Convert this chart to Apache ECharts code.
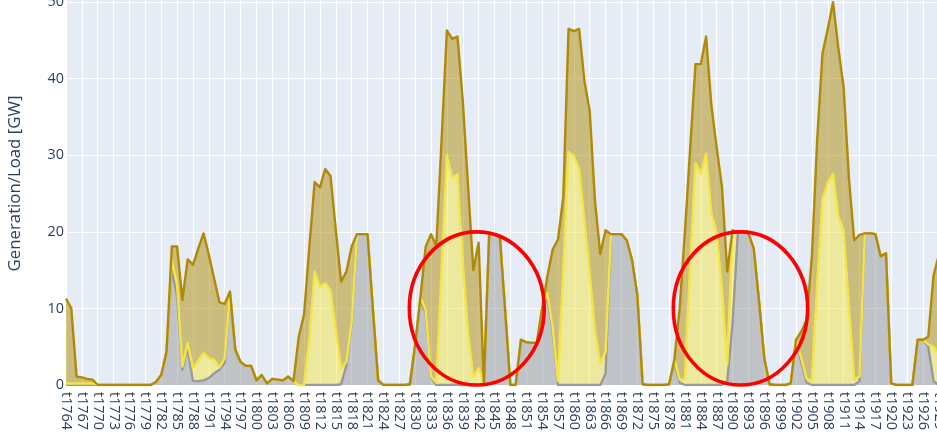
<!DOCTYPE html>
<html>
<head>
<meta charset="utf-8">
<script src="https://cdn.jsdelivr.net/npm/echarts@6/dist/echarts.min.js"></script>
<style>
  html, body { margin: 0; padding: 0; background: #ffffff; }
  #chart { width: 937px; height: 443px; }
</style>
</head>
<body>
<div id="chart"></div>
<script>
// Hourly time steps on the category axis
const hours = [
  't1764','t1765','t1766','t1767','t1768','t1769','t1770','t1771','t1772','t1773',
  't1774','t1775','t1776','t1777','t1778','t1779','t1780','t1781','t1782','t1783',
  't1784','t1785','t1786','t1787','t1788','t1789','t1790','t1791','t1792','t1793',
  't1794','t1795','t1796','t1797','t1798','t1799','t1800','t1801','t1802','t1803',
  't1804','t1805','t1806','t1807','t1808','t1809','t1810','t1811','t1812','t1813',
  't1814','t1815','t1816','t1817','t1818','t1819','t1820','t1821','t1822','t1823',
  't1824','t1825','t1826','t1827','t1828','t1829','t1830','t1831','t1832','t1833',
  't1834','t1835','t1836','t1837','t1838','t1839','t1840','t1841','t1842','t1843',
  't1844','t1845','t1846','t1847','t1848','t1849','t1850','t1851','t1852','t1853',
  't1854','t1855','t1856','t1857','t1858','t1859','t1860','t1861','t1862','t1863',
  't1864','t1865','t1866','t1867','t1868','t1869','t1870','t1871','t1872','t1873',
  't1874','t1875','t1876','t1877','t1878','t1879','t1880','t1881','t1882','t1883',
  't1884','t1885','t1886','t1887','t1888','t1889','t1890','t1891','t1892','t1893',
  't1894','t1895','t1896','t1897','t1898','t1899','t1900','t1901','t1902','t1903',
  't1904','t1905','t1906','t1907','t1908','t1909','t1910','t1911','t1912','t1913',
  't1914','t1915','t1916','t1917','t1918','t1919','t1920','t1921','t1922','t1923',
  't1924','t1925','t1926','t1927','t1928','t1929','t1930'
];

// Stacked layers in GW (bottom to top)
const grayLayer = [
  0,0,0,0,0,0,0,0,0,0,
  0,0,0,0,0,0,0,0.4,1.3,4.3,
  15.0,11.5,2.0,4.8,0.5,0.5,0.6,0.9,1.5,2.0,
  2.9,11.8,4.6,3.0,2.5,2.5,0.6,1.3,0.2,0.8,
  0.7,0.6,1.1,0.5,0,0,0,0,0,0,
  0,0,0.1,2.5,8.0,19.6,19.7,19.7,10.0,0.6,
  0,0,0,0,0,0.1,5.0,11.0,9.4,1.0,
  0,0,0,0,0,0,0,0,0,0.2,
  19.7,19.7,19.5,9.8,0,0,5.9,5.6,5.5,5.5,
  9.8,11.5,7.0,0,0,0,0,0,0,0,
  0,0,1.5,19.7,19.7,19.7,18.9,16.3,11.7,0.1,
  0,0,0,0,0.1,2.8,0.3,0,0,0,
  0,0,0,0,0,0.5,8.0,19.8,20.0,19.8,
  17.8,11.0,3.5,0.1,0,0,0,0.2,5.5,3.0,
  0.3,0,0,0,0,0,0,0,0,0,
  0.5,19.8,19.8,19.7,16.8,17.2,0.2,0,0,0,
  0,5.9,5.9,5.0,0.5,0,0
];

const yellowLayer = [
  0.2,0.2,0.2,0.2,0.2,0.2,0,0,0,0,
  0,0,0,0,0,0,0,0,0,0,
  1.3,1.7,0.4,0.7,1.7,2.7,3.6,2.6,1.8,0.3,
  0.6,0.3,0,0,0,0,0,0,0,0,
  0,0,0,0,0,0,6.0,14.8,12.8,13.3,
  12.4,7.2,2.1,0.5,0.3,0,0,0,0,0,
  0,0,0,0,0,0,0.3,0.5,0.4,0.1,
  0.3,15.0,30.0,27.1,27.5,16.0,6.8,1.1,2.2,0,
  0,0,0,0,0,0,0,0,0,0,
  0.2,0.5,0.5,0.5,15.0,30.4,29.9,28.2,21.5,14.5,
  7.0,2.8,2.8,0,0,0,0,0,0,0,
  0,0,0,0,0,0.5,0.4,0.7,16.0,29.0,
  27.6,30.2,22.4,19.8,12.4,2.2,12.0,0.2,0,0,
  0,0,0,0,0,0,0,0,0.4,0.5,
  0.5,0.5,13.0,24.2,26.4,27.6,22.0,20.2,10.2,0.7,
  0.6,0,0,0,0,0,0,0,0,0,
  0,0,0,0.3,4.5,4.0,4.0
];

const goldLayer = [
  11.1,9.8,0.9,0.8,0.6,0.5,0,0,0,0,
  0,0,0,0,0,0,0,0,0,0,
  1.8,4.9,8.7,10.9,13.5,14.6,15.6,13.5,10.6,8.5,
  7.1,0.1,0,0,0,0,0,0,0,0,
  0,0,0,0,6.3,9.2,12.0,11.7,13.0,14.9,
  14.9,13.1,11.3,11.8,9.8,0.1,0,0,0,0,
  0,0,0,0,0,0,0,0,8.3,18.6,
  17.9,17.0,16.3,18.1,18.0,21.2,19.2,13.9,16.4,0,
  0,0,0,0,0,0,0,0,0,0,
  0,2.2,10.2,18.5,9.5,16.1,16.3,18.3,18.2,21.3,
  17.0,14.3,15.9,0,0,0,0,0,0,0,
  0,0,0,0,0,0,9.3,19.3,15.0,12.9,
  14.3,15.3,14.1,11.2,13.5,12.1,0.2,0,0,0,
  0,0,0,0,0,0,0,0,0,3.5,
  7.7,16.3,19.0,19.1,20.1,22.4,22.0,18.7,16.8,18.2,
  18.5,0,0,0,0,0,0,0,0,0,
  0,0,0,1.0,9.3,13.0,14.5
];

// Value-axis ticks
const yTicks = [0, 10, 20, 30, 40, 50];

// Highlight rings, given in axis units (category index, GW)
const highlightRings = [
  { x0: 64.9, x1: 90.4, y0: 0, y1: 20 },
  { x0: 114.8, x1: 140.2, y0: 0, y1: 20 }
];

const FONT = '"Open Sans", verdana, arial, sans-serif';
const TEXT = '#2a3f5f';
const STEP = 5.29;            // px between neighbouring hours
const PX_PER_GW = 7.658;
const PLOT_TOP = -18;         // plot area continues above the visible frame
const PLOT_BOTTOM = 385;
const yMax = (PLOT_BOTTOM - PLOT_TOP) / PX_PER_GW;

const layers = [
  { name: 'gray',   data: grayLayer,   line: '#999999', fill: 'rgba(153,153,153,0.5)' },
  { name: 'yellow', data: yellowLayer, line: '#f3e545', fill: 'rgba(243,229,69,0.5)' },
  { name: 'gold',   data: goldLayer,   line: '#b08a06', fill: 'rgba(176,138,6,0.5)' }
];

const chart = echarts.init(document.getElementById('chart'), null, { renderer: 'canvas' });

const fillSeries = layers.map(l => ({
  type: 'line',
  name: l.name + ' fill',
  stack: 'fills',
  data: l.data,
  symbol: 'none',
  silent: true,
  lineStyle: { width: 0, opacity: 0 },
  areaStyle: { color: l.fill, opacity: 1 },
  z: 2
}));

const edgeSeries = layers.map(l => ({
  type: 'line',
  name: l.name,
  stack: 'edges',
  data: l.data,
  symbol: 'none',
  lineStyle: { width: 2.4, color: l.line, join: 'round' },
  z: 3
}));

chart.setOption({
  animation: false,
  backgroundColor: '#ffffff',
  grid: {
    left: 66,
    top: PLOT_TOP,
    width: STEP * (hours.length - 1),
    height: PLOT_BOTTOM - PLOT_TOP,
    outerBoundsMode: 'none',
    containLabel: false,
    show: true,
    backgroundColor: '#E5ECF6',
    borderWidth: 0
  },
  xAxis: {
    type: 'category',
    data: hours,
    boundaryGap: false,
    axisLine: { show: false },
    axisTick: { show: false },
    axisLabel: {
      interval: 2,
      rotate: -90,
      margin: 7,
      color: TEXT,
      fontFamily: FONT,
      fontSize: 14.4
    },
    splitLine: { show: true, interval: 2, lineStyle: { color: '#ffffff', width: 1.2 } }
  },
  yAxis: {
    type: 'value',
    min: yTicks[0],
    max: yMax,
    interval: yTicks[1] - yTicks[0],
    name: 'Generation/Load [GW]',
    nameLocation: 'middle',
    nameRotate: 90,
    nameGap: 42,
    nameTextStyle: { color: TEXT, fontFamily: FONT, fontSize: 16.8 },
    axisLine: { show: false },
    axisTick: { show: false },
    axisLabel: {
      margin: 2,
      color: TEXT,
      fontFamily: FONT,
      fontSize: 14.4,
      formatter: v => (yTicks.indexOf(Math.round(v * 1000) / 1000) >= 0 ? String(v) : '')
    },
    splitLine: { show: true, lineStyle: { color: '#ffffff', width: 1.2 } }
  },
  series: fillSeries.concat(edgeSeries)
});

// Place the rings using the chart's own axis scales
function ringGraphics() {
  const xa = chart.convertToPixel({ xAxisIndex: 0 }, 0);
  const xb = chart.convertToPixel({ xAxisIndex: 0 }, 1);
  const xPix = idx => xa + (xb - xa) * idx;
  const yPix = v => chart.convertToPixel({ yAxisIndex: 0 }, v);
  return highlightRings.map(r => {
    const left = xPix(r.x0), right = xPix(r.x1);
    const bottom = yPix(r.y0), top = yPix(r.y1);
    return {
      type: 'ellipse',
      shape: {
        cx: (left + right) / 2,
        cy: (top + bottom) / 2,
        rx: Math.abs(right - left) / 2,
        ry: Math.abs(bottom - top) / 2
      },
      style: { fill: 'none', stroke: '#ff0000', lineWidth: 3.6 },
      z: 100
    };
  });
}

chart.setOption({ graphic: ringGraphics() });
</script>
</body>
</html>
